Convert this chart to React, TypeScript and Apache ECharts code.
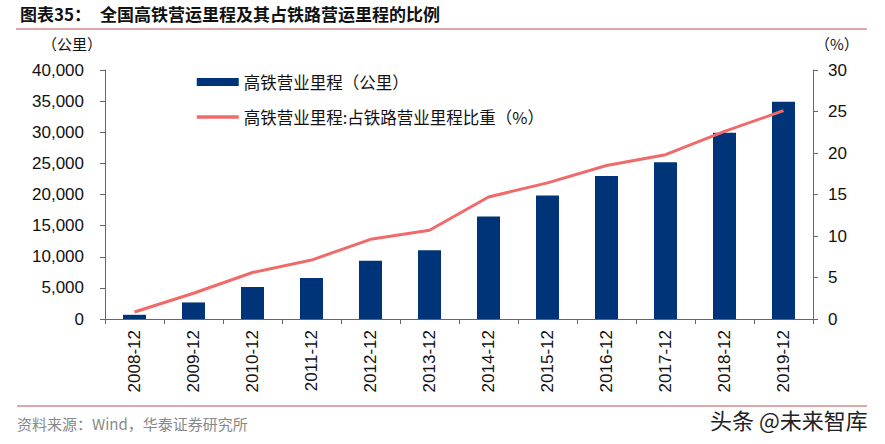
import React, { useEffect, useRef } from "react";
import * as echarts from "echarts";

const categories = ["2008-12", "2009-12", "2010-12", "2011-12", "2012-12", "2013-12", "2014-12", "2015-12", "2016-12", "2017-12", "2018-12", "2019-12"];
const mileage = [672, 2660, 5133, 6601, 9356, 11028, 16456, 19838, 22980, 25164, 29904, 34900];
const share = [0.84, 3.1, 5.6, 7.1, 9.6, 10.7, 14.7, 16.4, 18.5, 19.8, 22.6, 25.1];
const leftTicks = { min: 0, max: 40000, interval: 5000 };
const rightTicks = { min: 0, max: 30, interval: 5 };

const barName = "高铁营业里程（公里）";
const lineName = "高铁营业里程:占铁路营业里程比重（%）";

const CJK = "'Noto Sans CJK SC', sans-serif";
const NUM = "'Liberation Sans', Arial, sans-serif";
const BAR_COLOR = "#003478";
const LINE_COLOR = "#F06A6A";

export default function App() {
  const ref = useRef<HTMLDivElement>(null);
  useEffect(() => {
    document.body.style.margin = "0";
    const chart = echarts.init(ref.current!, null, { renderer: "svg" });
    chart.setOption({
      animation: false,
      backgroundColor: "#ffffff",
      grid: { left: 105, right: 72, top: 70, bottom: 125 },
      legend: {
        orient: "vertical",
        left: 195,
        top: 73,
        padding: 0,
        itemWidth: 42,
        itemHeight: 8,
        itemGap: 17,
        textStyle: { fontFamily: CJK, fontSize: 16.5, lineHeight: 18, color: "#111" },
        data: [
          { name: barName, icon: "rect" },
          { name: lineName, itemStyle: { opacity: 0 }, lineStyle: { color: LINE_COLOR, width: 3.5 } },
        ],
      },
      xAxis: {
        type: "category",
        data: categories,
        axisLine: { lineStyle: { color: "#666", width: 1 } },
        axisTick: { show: true, alignWithLabel: false, length: 5, lineStyle: { color: "#666" } },
        axisLabel: { rotate: 90, fontFamily: NUM, fontSize: 17, color: "#111", margin: 11 },
      },
      yAxis: [
        {
          type: "value",
          ...leftTicks,
          position: "left",
          axisLine: { show: true, lineStyle: { color: "#666" } },
          axisTick: { show: true, length: 5, lineStyle: { color: "#666" } },
          splitLine: { show: false },
          axisLabel: {
            fontFamily: NUM,
            fontSize: 17,
            color: "#111",
            margin: 21,
            formatter: (v: number) => v.toLocaleString("en-US"),
          },
        },
        {
          type: "value",
          ...rightTicks,
          position: "right",
          axisLine: { show: true, lineStyle: { color: "#666" } },
          axisTick: { show: true, length: 5, lineStyle: { color: "#666" } },
          splitLine: { show: false },
          axisLabel: { fontFamily: NUM, fontSize: 17, color: "#111", margin: 15 },
        },
      ],
      series: [
        {
          name: barName,
          type: "bar",
          data: mileage,
          barWidth: "39%",
          itemStyle: { color: BAR_COLOR },
        },
        {
          name: lineName,
          type: "line",
          yAxisIndex: 1,
          data: share,
          symbol: "none",
          lineStyle: { color: LINE_COLOR, width: 3 },
          itemStyle: { color: LINE_COLOR },
        },
      ],
      graphic: [
        {
          type: "text",
          left: 20,
          top: 5,
          style: { text: "图表35：", font: `bold 17px ${CJK}`, fill: "#111" },
        },
        {
          type: "text",
          left: 100,
          top: 5,
          style: { text: "全国高铁营运里程及其占铁路营运里程的比例", font: `bold 17px ${CJK}`, fill: "#111" },
        },
        { type: "line", shape: { x1: 16, y1: 29, x2: 867, y2: 29 }, style: { stroke: "#C0504D", lineWidth: 1.2 } },
        {
          type: "text",
          left: 42,
          top: 36,
          style: { text: "（公里）", font: `15px ${CJK}`, fill: "#111" },
        },
        {
          type: "text",
          left: 815,
          top: 36,
          style: { text: "（%）", font: `15px ${CJK}`, fill: "#111" },
        },
        { type: "line", shape: { x1: 17, y1: 406, x2: 867, y2: 406 }, style: { stroke: "#C0504D", lineWidth: 1.2 } },
        {
          type: "text",
          left: 17,
          top: 416,
          style: { text: "资料来源：Wind，华泰证券研究所", font: `15px ${CJK}`, fill: "#888" },
        },
        {
          type: "text",
          left: 710,
          top: 408,
          style: { text: "头条 @未来智库", font: `22px ${CJK}`, fill: "#222" },
        },
      ],
    });
    return () => chart.dispose();
  }, []);
  return <div ref={ref} style={{ width: 885, height: 444 }} />;
}
